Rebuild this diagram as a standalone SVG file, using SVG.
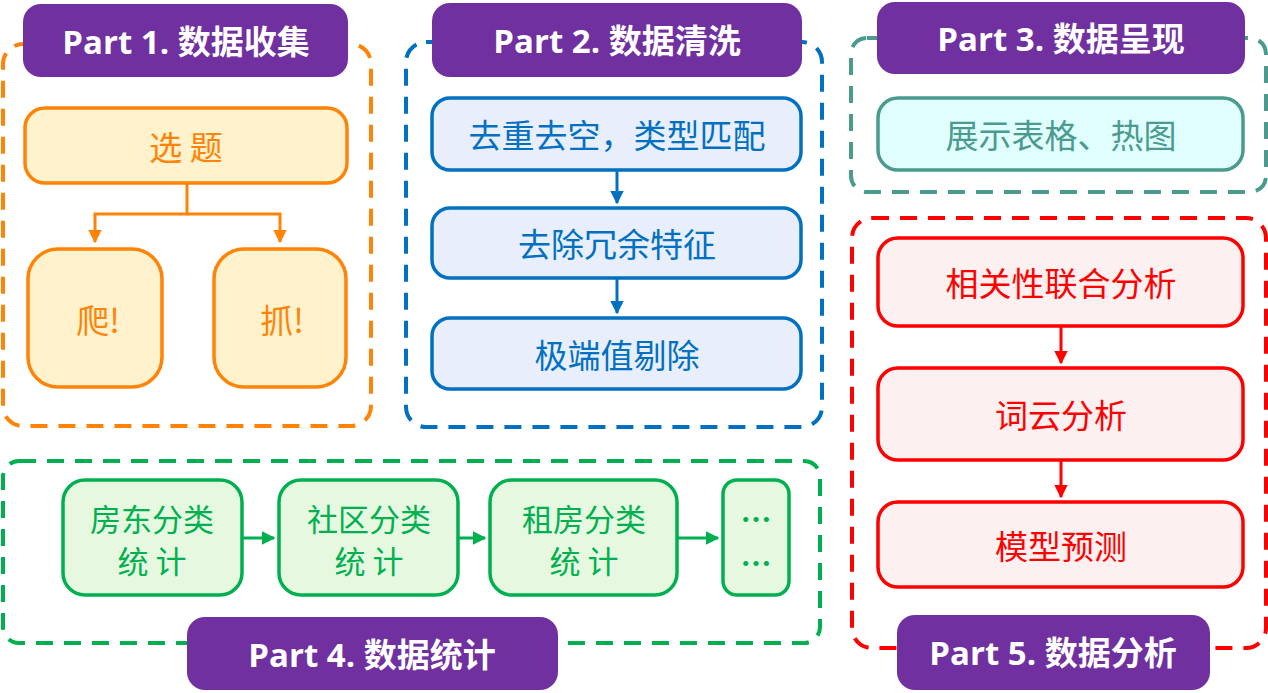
<svg xmlns="http://www.w3.org/2000/svg" width="1268" height="693" viewBox="0 0 1268 693">
<defs>
<style>
.dash{fill:none;stroke-width:4;stroke-dasharray:17 11}
.lbl{fill:#7030A0}
.lt{font-family:"Open Sans","Noto Sans CJK SC",sans-serif;font-weight:bold;font-size:33px;fill:#fff;text-anchor:middle;dominant-baseline:central}
.nt{font-family:"Noto Sans CJK SC",sans-serif;font-size:33px;text-anchor:middle;dominant-baseline:central}
.nt2{font-family:"Noto Sans CJK SC",sans-serif;font-size:31px;text-anchor:middle;dominant-baseline:central}
.o{fill:#FFF2CC;stroke:#FF8307;stroke-width:3.5}
.b{fill:#E8EEFC;stroke:#0070C0;stroke-width:3.5}
.c{fill:#E0FEFE;stroke:#4A9B8E;stroke-width:3.5}
.r{fill:#FCF0F0;stroke:#FF0000;stroke-width:3.5}
.g{fill:#E6F9E0;stroke:#00B050;stroke-width:3.5}
.line{fill:none;stroke-width:3}
</style>
<marker id="ao" viewBox="0 0 10 10" refX="9" refY="5" markerWidth="4.5" markerHeight="4.5" orient="auto" markerUnits="strokeWidth"><path d="M0,0L10,5L0,10z" fill="#FF8307"/></marker>
<marker id="ab" viewBox="0 0 10 10" refX="9" refY="5" markerWidth="4.5" markerHeight="4.5" orient="auto" markerUnits="strokeWidth"><path d="M0,0L10,5L0,10z" fill="#0070C0"/></marker>
<marker id="ar" viewBox="0 0 10 10" refX="9" refY="5" markerWidth="4.5" markerHeight="4.5" orient="auto" markerUnits="strokeWidth"><path d="M0,0L10,5L0,10z" fill="#FF0000"/></marker>
<marker id="ag" viewBox="0 0 10 10" refX="9" refY="5" markerWidth="4.5" markerHeight="4.5" orient="auto" markerUnits="strokeWidth"><path d="M0,0L10,5L0,10z" fill="#00B050"/></marker>
</defs>
<rect width="1268" height="693" fill="#fff"/>

<g id="part1">
<rect class="dash" x="3" y="44" width="368" height="382" rx="20" stroke="#FF8307"/>
<rect class="lbl" x="23" y="4" width="325" height="73" rx="18"/>
<text class="lt" x="186" y="41">Part 1. 数据收集</text>
</g>
<g id="part2">
<rect class="dash" x="406" y="42" width="416" height="385" rx="20" stroke="#0070C0"/>
<rect class="lbl" x="432" y="3" width="370" height="74" rx="18"/>
<text class="lt" x="617" y="40">Part 2. 数据清洗</text>
</g>
<g id="part3">
<rect class="dash" x="851" y="38" width="415" height="154" rx="16" stroke="#4A9B8E"/>
<rect class="lbl" x="877" y="2" width="368" height="72" rx="18"/>
<text class="lt" x="1061" y="38">Part 3. 数据呈现</text>
</g>
<g id="part5">
<rect class="dash" x="852" y="218" width="414" height="430" rx="20" stroke="#FF0000"/>
<rect class="lbl" x="897" y="615" width="313" height="75" rx="18"/>
<text class="lt" x="1053" y="652">Part 5. 数据分析</text>
</g>
<g id="part4">
<rect class="dash" x="3" y="461" width="817" height="182" rx="16" stroke="#00B050"/>
<rect class="lbl" x="187" y="617" width="371" height="73" rx="18"/>
<text class="lt" x="372" y="654">Part 4. 数据统计</text>
</g>

<g id="connectors">
<path class="line" d="M187,183V214H95V242" stroke="#FF8307" marker-end="url(#ao)"/>
<path class="line" d="M187,214H280V242" stroke="#FF8307" marker-end="url(#ao)"/>
<path class="line" d="M617,170V203" stroke="#0070C0" marker-end="url(#ab)"/>
<path class="line" d="M617,278V313" stroke="#0070C0" marker-end="url(#ab)"/>
<path class="line" d="M1061,326V363" stroke="#FF0000" marker-end="url(#ar)"/>
<path class="line" d="M1061,460V497" stroke="#FF0000" marker-end="url(#ar)"/>
<path class="line" d="M242,538H274" stroke="#00B050" marker-end="url(#ag)"/>
<path class="line" d="M458,538H485" stroke="#00B050" marker-end="url(#ag)"/>
<path class="line" d="M677,538H718" stroke="#00B050" marker-end="url(#ag)"/>
</g>

<g id="n-xuanti"><rect class="o" x="25" y="108" width="322" height="75" rx="20"/><text class="nt" x="186" y="146" fill="#FF8307">选 题</text></g>
<g id="n-pa"><rect class="o" x="28" y="249" width="134" height="138" rx="30"/><text class="nt" x="98" y="319" fill="#FF8307">爬!</text></g>
<g id="n-zhua"><rect class="o" x="214" y="249" width="132" height="138" rx="30"/><text class="nt" x="282" y="319" fill="#FF8307">抓!</text></g>

<g id="n-quchong"><rect class="b" x="432" y="98" width="369" height="72" rx="18"/><text class="nt" x="617" y="134" fill="#0070C0">去重去空，类型匹配</text></g>
<g id="n-quchu"><rect class="b" x="432" y="208" width="369" height="70" rx="18"/><text class="nt" x="617" y="243" fill="#0070C0">去除冗余特征</text></g>
<g id="n-jiduan"><rect class="b" x="432" y="318" width="369" height="71" rx="18"/><text class="nt" x="617" y="354" fill="#0070C0">极端值剔除</text></g>

<g id="n-zhanshi"><rect class="c" x="878" y="98" width="365" height="72" rx="20"/><text class="nt" x="1061" y="134" fill="#4A9B8E">展示表格、热图</text></g>

<g id="n-xiangguan"><rect class="r" x="878" y="238" width="365" height="88" rx="20"/><text class="nt" x="1061" y="282" fill="#FF0000">相关性联合分析</text></g>
<g id="n-ciyun"><rect class="r" x="878" y="368" width="365" height="92" rx="20"/><text class="nt" x="1061" y="414" fill="#FF0000">词云分析</text></g>
<g id="n-moxing"><rect class="r" x="878" y="502" width="365" height="85" rx="20"/><text class="nt" x="1061" y="545" fill="#FF0000">模型预测</text></g>

<g id="n-fangdong"><rect class="g" x="63" y="480" width="179" height="115" rx="22"/><text class="nt2" x="152" y="517" fill="#00B050">房东分类</text><text class="nt2" x="152" y="559" fill="#00B050">统 计</text></g>
<g id="n-shequ"><rect class="g" x="279" y="480" width="179" height="115" rx="22"/><text class="nt2" x="369" y="517" fill="#00B050">社区分类</text><text class="nt2" x="369" y="559" fill="#00B050">统 计</text></g>
<g id="n-zufang"><rect class="g" x="490" y="480" width="187" height="115" rx="22"/><text class="nt2" x="584" y="517" fill="#00B050">租房分类</text><text class="nt2" x="584" y="559" fill="#00B050">统 计</text></g>
<g id="n-more"><rect class="g" x="723" y="480" width="66" height="115" rx="14"/><text class="nt2" x="756" y="517" fill="#00B050" font-weight="bold">…</text><text class="nt2" x="756" y="561" fill="#00B050" font-weight="bold">…</text></g>
</svg>
